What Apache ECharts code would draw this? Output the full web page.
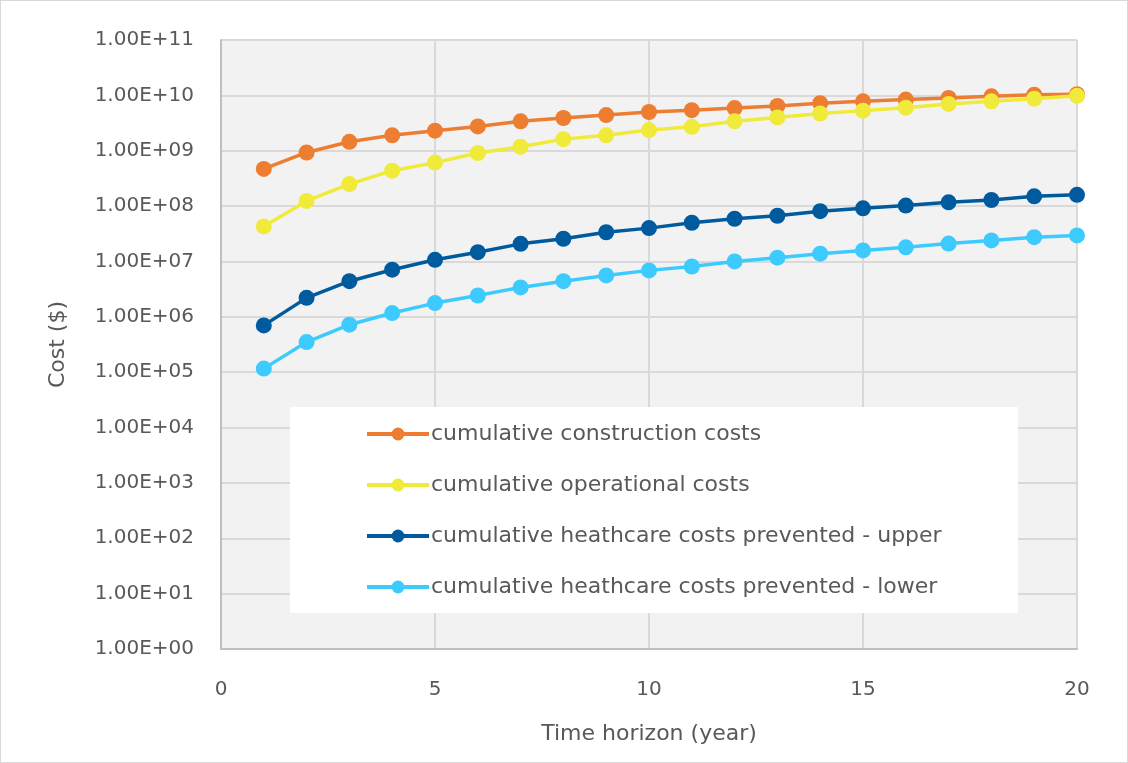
<!DOCTYPE html>
<html><head><meta charset="utf-8">
<script src="https://cdn.jsdelivr.net/npm/echarts@6/dist/echarts.min.js"></script>
<style>html,body{margin:0;padding:0;background:#fff}#c{width:1128px;height:763px;box-sizing:border-box;border:1px solid #d9d9d9}</style>
</head><body><div id="c"></div>
<script>
const years = [1,2,3,4,5,6,7,8,9,10,11,12,13,14,15,16,17,18,19,20];
const construction = [4.7e8,9.3e8,1.45e9,1.9e9,2.3e9,2.75e9,3.4e9,3.9e9,4.4e9,5.0e9,5.4e9,5.9e9,6.45e9,7.2e9,7.8e9,8.4e9,9.0e9,9.6e9,1.03e10,1.05e10];
const operational = [4.3e7,1.24e8,2.5e8,4.36e8,6.1e8,9.1e8,1.18e9,1.62e9,1.9e9,2.36e9,2.7e9,3.4e9,4.0e9,4.7e9,5.3e9,6.0e9,7.0e9,7.8e9,8.7e9,9.8e9];
const healthUpper = [7.0e5,2.2e6,4.4e6,7.1e6,1.07e7,1.47e7,2.08e7,2.57e7,3.37e7,4.0e7,5.0e7,5.9e7,6.7e7,8.1e7,9.1e7,1.02e8,1.17e8,1.29e8,1.5e8,1.6e8];
const healthLower = [1.16e5,3.5e5,7.2e5,1.17e6,1.77e6,2.43e6,3.4e6,4.4e6,5.6e6,6.9e6,8.1e6,1.0e7,1.17e7,1.38e7,1.58e7,1.8e7,2.1e7,2.4e7,2.75e7,2.95e7];
const seriesNames = ['cumulative construction costs','cumulative operational costs','cumulative heathcare costs prevented - upper','cumulative heathcare costs prevented - lower'];
const colors = ['#ED7D31','#F0EA3A','#005A9E','#3DCBFF'];

const font = '"DejaVu Sans", "Open Sans", sans-serif';
function fmtExp(v){
  const e = Math.round(Math.log10(v));
  const m = v/Math.pow(10,e);
  return m.toFixed(2)+'E+'+(e<10?'0':'')+e;
}
const datas = [construction, operational, healthUpper, healthLower];
const chart = echarts.init(document.getElementById('c'));
chart.setOption({
  animation:false,
  textStyle:{fontFamily:font},
  grid:{left:220,top:39,right:50,bottom:113,show:true,backgroundColor:'#f2f2f2',borderWidth:0},
  xAxis:{type:'value',min:0,max:20,interval:5,
    axisLine:{show:true,lineStyle:{color:'#bfbfbf',width:2}},axisTick:{show:false},
    splitLine:{show:true,lineStyle:{color:'#d9d9d9',width:2}},
    axisLabel:{color:'#595959',fontSize:20,fontFamily:font,margin:31},
    name:'Time horizon (year)',nameLocation:'middle',nameGap:74,
    nameTextStyle:{color:'#595959',fontSize:22,fontFamily:font}},
  yAxis:{type:'log',logBase:10,min:1,max:1e11,interval:1,splitNumber:11,
    axisLine:{show:true,lineStyle:{color:'#bfbfbf',width:2}},axisTick:{show:false},
    splitLine:{show:true,lineStyle:{color:'#d9d9d9',width:2}},
    axisLabel:{color:'#595959',fontSize:20,fontFamily:font,margin:27,formatter:fmtExp},
    name:'Cost ($)',nameLocation:'middle',nameGap:152,nameRotate:90,
    nameTextStyle:{color:'#595959',fontSize:22,fontFamily:font}},
  graphic:[{type:'rect',left:289,top:406,shape:{width:728,height:206},style:{fill:'#ffffff'},z:10}],
  legend:{show:true,orient:'vertical',left:359,top:415,itemWidth:62,itemHeight:16,itemGap:25,z:20,
    lineStyle:{width:4},
    textStyle:{color:'#595959',fontSize:22,lineHeight:26,fontFamily:font,padding:[0,0,0,-3]},
    data:seriesNames},
  series: seriesNames.map((n,i)=>({name:n,type:'line',data:years.map((y,j)=>[y,datas[i][j]]),
    symbol:'circle',symbolSize:16,lineStyle:{width:3.5,color:colors[i]},itemStyle:{color:colors[i]},z:5}))
});
</script></body></html>
